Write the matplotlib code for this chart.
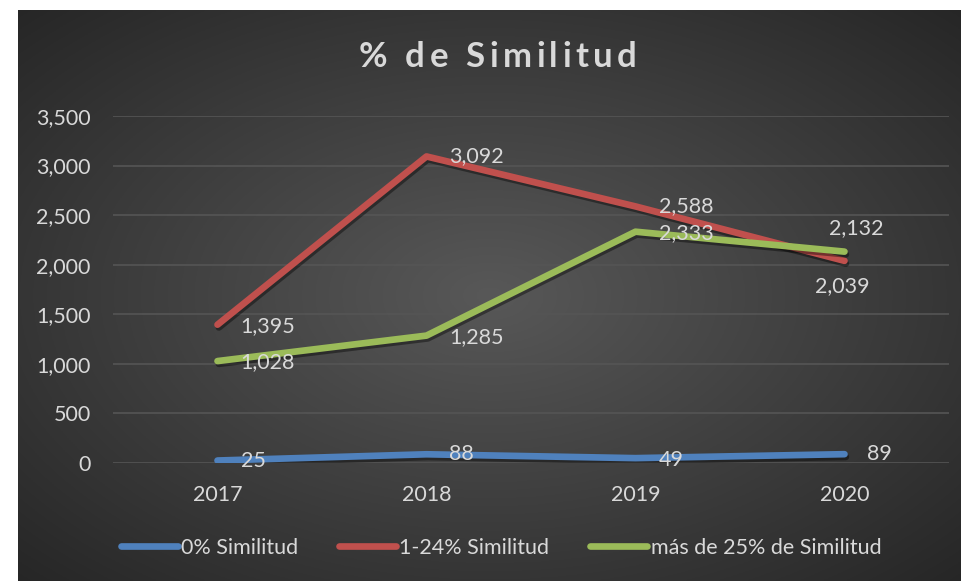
import numpy as np
import matplotlib.pyplot as plt
import matplotlib.patheffects as pe
from matplotlib.font_manager import FontProperties

plt.rcParams['font.family'] = ['Lato', 'DejaVu Sans']

# datos
anios = ['2017', '2018', '2019', '2020']
sim_0 = [25, 88, 49, 89]
sim_1_24 = [1395, 3092, 2588, 2039]
sim_25 = [1028, 1285, 2333, 2132]
series_nombres = ['0% Similitud', '1-24% Similitud', 'más de 25% de Similitud']
y_ticks = [0, 500, 1000, 1500, 2000, 2500, 3000, 3500]
titulo = '% de Similitud'

colores = ['#4f81bd', '#c0504d', '#9bbb59']
texto = '#d9d9d9'
fs = 15.5

W, H = 962, 581
fig = plt.figure(figsize=(W / 100, H / 100), dpi=100)
fig.patch.set_facecolor('white')

# fondo con degradado radial
bg = fig.add_axes([18 / W, 0, (W - 18) / W, (H - 10) / H])
yy, xx = np.mgrid[0:1:300j, 0:1:500j]
r = np.sqrt(((xx - 0.5) / 0.75) ** 2 + ((yy - 0.5) / 0.75) ** 2)
r = np.clip(r / 0.95, 0, 1)
c0, c1 = 0x58 / 255, 0x26 / 255
grad = c0 + (c1 - c0) * r
bg.imshow(np.dstack([grad] * 3), aspect='auto', extent=[0, 1, 0, 1])
bg.axis('off')

ax = fig.add_axes([113 / W, (H - 463) / H, (949 - 113) / W, (463 - 116) / H])
ax.set_facecolor('none')
x = np.arange(len(anios))

sombra = [pe.SimpleLineShadow(offset=(1, -2), shadow_color='black', alpha=0.4), pe.Normal()]
for vals, col, nom in zip([sim_0, sim_1_24, sim_25], colores, series_nombres):
    ax.plot(x, vals, color=col, lw=4.8, solid_capstyle='round', solid_joinstyle='round',
            label=nom, path_effects=sombra, zorder=3)

# etiquetas de datos (desplazamiento en pixeles)
def etiqueta(i, v, dx=23, dy=0, ha='left'):
    ax.annotate(f'{v:,}', (x[i], v), xytext=(dx, dy), textcoords='offset pixels',
                ha=ha, va='center', color=texto, fontsize=fs, zorder=5)

for i, v in enumerate(sim_0):
    etiqueta(i, v, dy=-2 if i == 2 else 0)
for i, v in enumerate(sim_1_24[:3]):
    etiqueta(i, v, dy=-1 if i == 0 else 0)
for i, v in enumerate(sim_25[:3]):
    etiqueta(i, v, dy=-1)
etiqueta(3, sim_1_24[3], dx=-2, dy=-25, ha='center')
etiqueta(3, sim_25[3], dx=12, dy=24, ha='center')

ax.set_xlim(-0.5, 3.5)
ax.set_ylim(0, 3500)
ax.set_xticks(x)
ax.set_xticklabels(anios)
ax.set_yticks(y_ticks)
ax.set_yticklabels([f'{t:,}' for t in y_ticks])
ax.tick_params(colors=texto, labelsize=fs, length=0)
ax.tick_params(axis='x', pad=16)
ax.tick_params(axis='y', pad=16)
ax.grid(axis='y', color='#555555', lw=1.2, zorder=0)
for s in ax.spines.values():
    s.set_visible(False)

# titulo con espaciado entre letras
prop = FontProperties(family=['Lato', 'DejaVu Sans'], weight='bold', size=25)
rend = fig.canvas.get_renderer()
esp = 4.5
anchos = [rend.get_text_width_height_descent(titulo[:k], prop, ismath=False)[0]
          for k in range(len(titulo) + 1)]
total = anchos[-1] + esp * (len(titulo) - 1)
x0 = 498 - total / 2
for k, ch in enumerate(titulo):
    fig.text((x0 + anchos[k] + esp * k) / W, 1 - 57 / H, ch, ha='left', va='center',
             color=texto, fontproperties=prop)

leg = fig.legend(loc='center', bbox_to_anchor=(501 / W, 1 - 548 / H), ncol=3, frameon=False,
                 fontsize=fs, labelcolor=texto, handlelength=2.65, handletextpad=0.15,
                 columnspacing=1.9)
for h in leg.legend_handles:
    h.set_path_effects([])

fig.savefig('out.png', dpi=100)
